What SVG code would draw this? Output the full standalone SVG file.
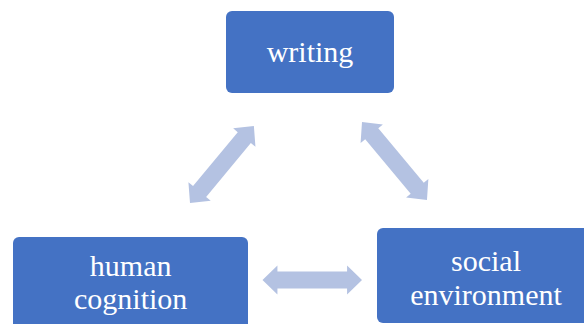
<svg xmlns="http://www.w3.org/2000/svg" xmlns:xlink="http://www.w3.org/1999/xlink" width="584" height="324" viewBox="0 0 584 324">
  <style>
    .box { fill: #4472C4; }
    .lbl { fill: #FFFFFF; font-family: "Liberation Serif", "Times New Roman", serif; font-size: 30px; text-anchor: middle; }
    .arr { fill: #B4C2E2; }
  </style>
  <defs>
    <path id="dbl" d="M0,0 L15,-14.5 L15,-8.5 L85,-8.5 L85,-14.5 L100,0 L85,14.5 L85,8.5 L15,8.5 L15,14.5 Z"/>
  </defs>
  <rect width="584" height="324" fill="#FFFFFF"/>
  <g id="connectors" class="arr">
    <use xlink:href="#dbl" href="#dbl" transform="translate(190,203) rotate(-50.3)"/>
    <use xlink:href="#dbl" href="#dbl" transform="translate(362,122) rotate(50.2) scale(1.015,1)"/>
    <use xlink:href="#dbl" href="#dbl" transform="translate(262.5,280) scale(0.995,1)"/>
  </g>
  <g id="writing">
    <rect class="box" x="226" y="11" width="168" height="82" rx="6"/>
    <text class="lbl" x="310" y="62">writing</text>
  </g>
  <g id="human-cognition">
    <rect class="box" x="13" y="237" width="235" height="100" rx="6"/>
    <text class="lbl" x="130.7" y="275.5">human</text>
    <text class="lbl" x="130.7" y="309">cognition</text>
  </g>
  <g id="social-environment">
    <rect class="box" x="377" y="228" width="218" height="95" rx="6"/>
    <text class="lbl" x="486" y="271">social</text>
    <text class="lbl" x="486" y="304.5">environment</text>
  </g>
</svg>
